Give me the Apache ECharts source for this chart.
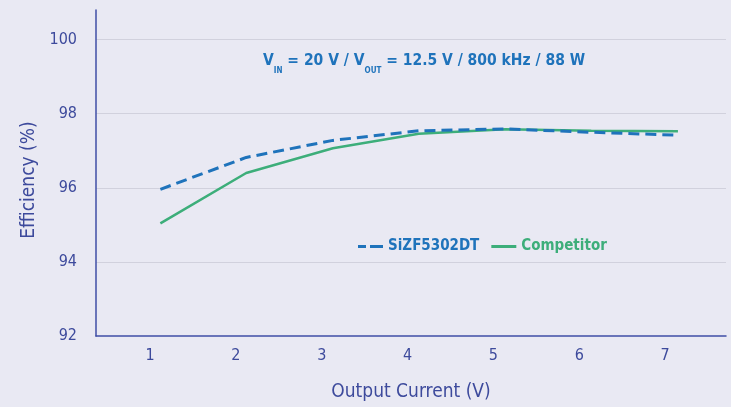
<!DOCTYPE html>
<html>
<head>
<meta charset="utf-8">
<script src="https://cdn.jsdelivr.net/npm/echarts@6/dist/echarts.min.js"></script>
<style>
html,body{margin:0;padding:0;background:#e9e9f3;}
#c{width:731px;height:407px;}
</style>
</head>
<body>
<div id="c"></div>
<script>
// Data
const xValues = [1.12, 2.12, 3.13, 4.13, 5.14, 6.14, 7.15];
const siz = [95.96, 96.82, 97.28, 97.54, 97.59, 97.50, 97.42];
const competitor = [95.04, 96.40, 97.07, 97.46, 97.58, 97.54, 97.53];
const seriesNames = ['SiZF5302DT', 'Competitor'];
const yTicks = [92, 94, 96, 98, 100];
const xTicks = [1, 2, 3, 4, 5, 6, 7];

const FONT = "'DejaVu Sans Condensed','DejaVu Sans',sans-serif";
const AXIS_COLOR = '#3f4ea6';
const LABEL_COLOR = '#3d4a9c';
const BLUE = '#1f73bb';
const GREEN = '#3dae7a';

const chart = echarts.init(document.getElementById('c'), null, {renderer: 'canvas'});
chart.setOption({
  backgroundColor: '#e9e9f3',
  animation: false,
  textStyle: {fontFamily: FONT},
  title: {
    text: '{v|V}{s|IN}{t| = 20 V / }{v|V}{s|OUT}{t| = 12.5 V / 800 kHz / 88 W}',
    left: 258,
    top: 42,
    textStyle: {
      rich: {
        v: {fontFamily: FONT, fontSize: 15.5, fontWeight: 'bold', color: BLUE, lineHeight: 28, verticalAlign: 'middle'},
        t: {fontFamily: FONT, fontSize: 15.5, fontWeight: 'bold', color: BLUE, lineHeight: 28, verticalAlign: 'middle'},
        s: {fontFamily: FONT, fontSize: 8, fontWeight: 'bold', color: BLUE, lineHeight: 28, verticalAlign: 'bottom'}
      }
    }
  },
  legend: {
    left: 358,
    top: 239,
    padding: 0,
    itemWidth: 25,
    itemHeight: 3,
    itemGap: 12,
    symbolKeepAspect: false,
    textStyle: {fontFamily: FONT, fontSize: 15, fontWeight: 'bold'},
    data: [
      {name: seriesNames[0], icon: 'path://M0,0H8V3H0Z M12,0H25V3H12Z', itemStyle: {color: BLUE}, textStyle: {color: BLUE}},
      {name: seriesNames[1], icon: 'path://M0,0H25V3H0Z', itemStyle: {color: GREEN}, textStyle: {color: GREEN}}
    ]
  },
  grid: {left: 96, right: 5, top: 10, bottom: 71, containLabel: false},
  xAxis: {
    type: 'value',
    min: 0.37,
    max: 7.71,
    splitNumber: 7,
    name: 'Output Current (V)',
    nameLocation: 'middle',
    nameGap: 47,
    nameTextStyle: {fontFamily: FONT, fontSize: 19, color: LABEL_COLOR},
    axisLine: {show: true, lineStyle: {color: AXIS_COLOR, width: 1.5}},
    axisTick: {show: false},
    splitLine: {show: false},
    axisLabel: {
      color: LABEL_COLOR, fontFamily: FONT, fontSize: 16, margin: 12,
      showMinLabel: false, showMaxLabel: false,
      formatter: v => (xTicks.indexOf(v) >= 0 ? String(v) : '')
    }
  },
  yAxis: {
    type: 'value',
    min: 92,
    max: 100.8,
    interval: 2,
    name: 'Efficiency (%)',
    nameLocation: 'middle',
    nameGap: 55,
    nameTextStyle: {fontFamily: FONT, fontSize: 19, color: LABEL_COLOR, padding: [0, 14, 0, 0]},
    axisLine: {show: true, lineStyle: {color: AXIS_COLOR, width: 1.5}},
    axisTick: {show: false},
    splitLine: {show: true, showMinLine: false, showMaxLine: false, lineStyle: {color: '#d1d1dd', width: 1}},
    axisLabel: {
      color: LABEL_COLOR, fontFamily: FONT, fontSize: 16, margin: 19,
      showMaxLabel: false,
      formatter: v => (yTicks.indexOf(v) >= 0 ? String(v) : '')
    }
  },
  series: [
    {
      name: seriesNames[0],
      type: 'line',
      data: xValues.map((x, i) => [x, siz[i]]),
      symbol: 'none',
      color: BLUE,
      lineStyle: {color: BLUE, width: 3, type: [11, 6]},
      z: 3
    },
    {
      name: seriesNames[1],
      type: 'line',
      data: xValues.map((x, i) => [x, competitor[i]]),
      symbol: 'none',
      color: GREEN,
      lineStyle: {color: GREEN, width: 2.5},
      z: 2
    }
  ]
});
</script>
</body>
</html>
